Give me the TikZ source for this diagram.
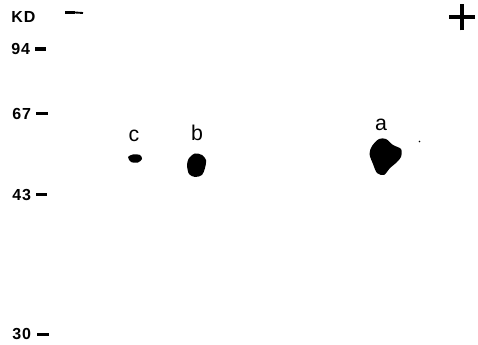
\documentclass[tikz,border=0pt]{standalone}
\usepackage{fontspec}
\setmainfont{Liberation Sans}
\begin{document}
\begin{tikzpicture}[x=0.75pt,y=-0.75pt,
  mw/.style={font=\fontsize{12}{12}\selectfont\bfseries\addfontfeature{LetterSpace=6}, inner sep=0pt, anchor=west},
  lbl/.style={font=\fontsize{16}{16}\selectfont, inner sep=0pt},
  tick/.style={line width=2.8pt}]
\useasboundingbox[fill=white] (0,0) rectangle (478,345);
% markers
\node[mw] (kd) at (11,17) {KD};
\node[mw] (m94) at (11,49) {94};
\node[mw] (m67) at (12,114) {67};
\node[mw] (m43) at (12,195) {43};
\node[mw] (m30) at (12,334) {30};
\coordinate (t94a) at (35,49); \coordinate (t94b) at (46,49);
\coordinate (t67a) at (36,113.5); \coordinate (t67b) at (48,113.5);
\coordinate (t43a) at (36,194.5); \coordinate (t43b) at (47,194.5);
\coordinate (t30a) at (37,334.5); \coordinate (t30b) at (49,334.5);
\draw[tick] (t94a) -- (t94b);
\draw[tick] (t67a) -- (t67b);
\draw[tick] (t43a) -- (t43b);
\draw[tick] (t30a) -- (t30b);
% electrode signs
\coordinate (mnA) at (65,12.5); \coordinate (mnB) at (75,12.5); \coordinate (mnC) at (83,13);
\draw[line width=2.6pt] (mnA) -- (mnB);
\draw[line width=1.4pt] (mnB) -- (mnC);
\coordinate (pc) at (462,17);
\draw[line width=2.6pt] ([xshift=-9.5]pc) -- ([xshift=9.5]pc);
\draw[line width=2.6pt] ([yshift=-10]pc) -- ([yshift=10]pc);
% lane labels
\node[lbl] (lc) at (134,136) {c};
\node[lbl] (lb) at (197,133) {b};
\node[lbl] (la) at (381,125) {a};
% spots
\fill plot[smooth cycle] coordinates {(128,157) (133,154.5) (140,155) (142,159) (138,162.5) (131,162)};
\fill plot[smooth cycle] coordinates {(189,158) (195,153.5) (202,155) (206,160) (205,168) (202,175) (195,177) (189,174) (187,165)};
\fill plot[smooth cycle] coordinates {(372,146) (379,139) (386,139) (393,145) (401,149) (401,157) (396,163) (390,168) (384,175) (377,173) (373,164) (369.5,154)};
\fill (419.5,141.5) circle (0.9);
\end{tikzpicture}
\end{document}
